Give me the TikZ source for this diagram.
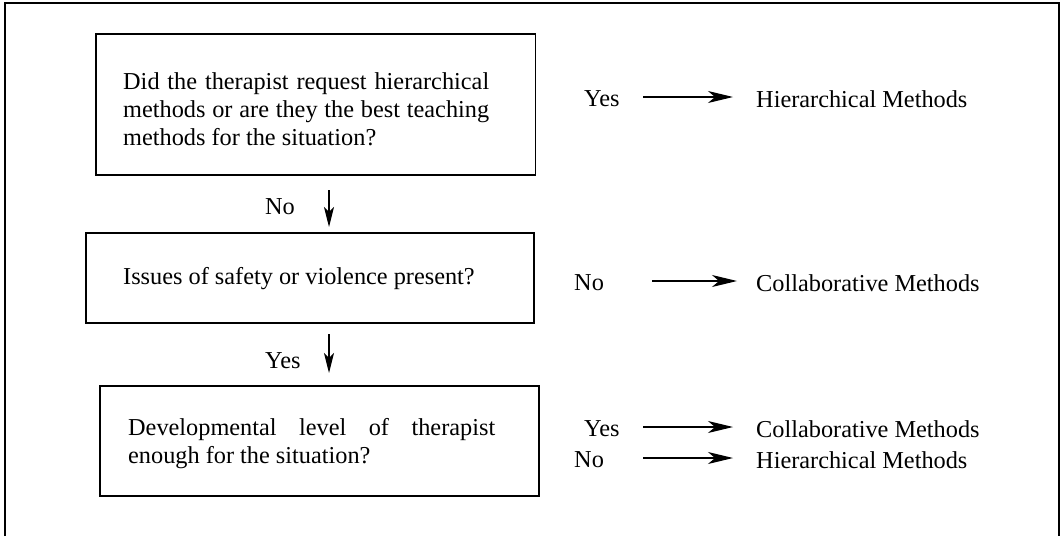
\documentclass[tikz,border=0pt]{standalone}
\usepackage{fontspec}
\setmainfont{Liberation Serif}
\usetikzlibrary{arrows.meta}
\begin{document}
\begin{tikzpicture}[x=1pt,y=-1pt,
  txt/.style={inner sep=0pt, anchor=west, font=\fontsize{24.3}{27.8}\selectfont},
  qbox/.style={draw, line width=1.4pt, inner sep=0pt},
  frame/.style={line width=1.3pt},
  harrow/.style={line width=1.2pt, -{Stealth[length=25pt,width=12pt,inset=7pt]}},
  varrow/.style={line width=1.2pt, -{Stealth[length=20pt,width=10pt,inset=5pt]}}]
\useasboundingbox (0,0) rectangle (1064,536);
% outer frame
\draw[frame] (5,536) -- (5,3) -- (1059,3) -- (1059,536);
% boxes
\node[qbox, minimum width=439.5pt, minimum height=141pt] (q1) at (315.75,104.5) {};
\node[qbox, minimum width=448pt, minimum height=90pt] (q2) at (310,278) {};
\node[qbox, minimum width=439pt, minimum height=110pt] (q3) at (319.5,441) {};
% box texts
\node[txt] (t1) at (123,109.5) {\parbox{366pt}{\makebox[366pt][s]{Did the therapist request hierarchical}\\
\makebox[366pt][s]{methods or are they the best teaching}\\
methods for the situation?}};
\node[txt] (t2) at (123,279) {Issues of safety or violence present?};
\node[txt] (t3) at (128,443.5) {\parbox{367pt}{\makebox[367pt][s]{Developmental level of therapist}\\
enough for the situation?}};
% vertical arrows
\node[txt] (v1) at (265,207) {No};
\coordinate (v1s) at (329,190);
\coordinate (v1e) at (329,227);
\draw[varrow] (v1s) -- (v1e);
\node[txt] (v2) at (265,361) {Yes};
\coordinate (v2s) at (329,334);
\coordinate (v2e) at (329,373);
\draw[varrow] (v2s) -- (v2e);
% right side
\node[txt] (l1) at (584,99) {Yes};
\node[txt] (r1) at (756,99) {Hierarchical Methods};
\coordinate (h1s) at (643,97);
\coordinate (h1e) at (733,97);
\draw[harrow] (h1s) -- (h1e);
\node[txt] (l2) at (574,283) {No};
\node[txt] (r2) at (756,283) {Collaborative Methods};
\coordinate (h2s) at (652,281);
\coordinate (h2e) at (737,281);
\draw[harrow] (h2s) -- (h2e);
\node[txt] (l3) at (584,429) {Yes};
\node[txt] (r3) at (756,429) {Collaborative Methods};
\coordinate (h3s) at (643,427);
\coordinate (h3e) at (733,427);
\draw[harrow] (h3s) -- (h3e);
\node[txt] (l4) at (574,460) {No};
\node[txt] (r4) at (756,460) {Hierarchical Methods};
\coordinate (h4s) at (643,458);
\coordinate (h4e) at (733,458);
\draw[harrow] (h4s) -- (h4e);
\end{tikzpicture}
\end{document}
